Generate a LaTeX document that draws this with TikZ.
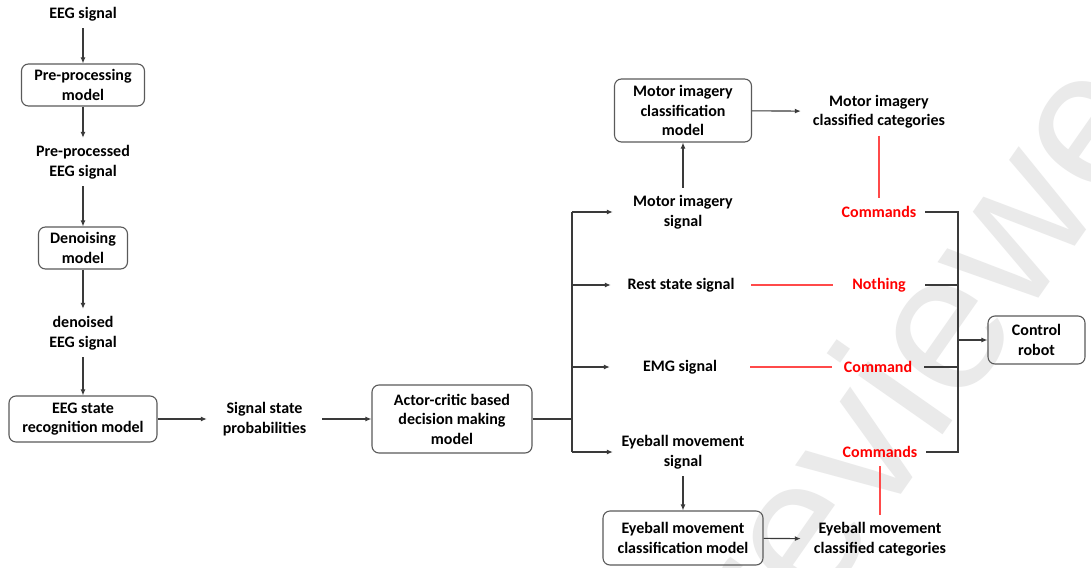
\documentclass[tikz,border=0pt]{standalone}
\usepackage{fontspec}
\setmainfont{Carlito}
\newfontfamily\wmfont{Liberation Sans}
\usetikzlibrary{arrows.meta}
\definecolor{linegray}{HTML}{3A3A3A}
\definecolor{boxgray}{HTML}{5A5A5A}
\definecolor{cmdred}{HTML}{FF0000}
\definecolor{redline}{HTML}{FF4A4A}
\definecolor{wmgray}{HTML}{EAEAEA}
\tikzset{
  txt/.style={font=\bfseries\fontsize{16}{19.5}\selectfont, align=center, inner sep=0pt},
  lbl/.style={txt, minimum height=28pt},
  lbltwo/.style={txt, minimum height=48pt},
  model/.style={txt, draw=boxgray, line width=1.1pt, rounded corners=7pt},
  arr/.style={draw=linegray, line width=1.1pt, -{Latex[length=6pt,width=5pt]}},
  plain/.style={draw=linegray, line width=1.1pt},
  cmdline/.style={draw=redline, line width=1.2pt},
  cmd/.style={lbl, text=cmdred, minimum width=92pt},
  sig/.style={minimum width=140pt},
}
\begin{document}
\begin{tikzpicture}[x=1pt,y=-1pt]
\useasboundingbox[fill=white] (0,0) rectangle (1091,567);

% watermark
\begin{scope}
  \clip (0,0) rectangle (1091,567);
  \node[anchor=base west, rotate=55, inner sep=0pt, text=wmgray,
        font=\wmfont\fontsize{195}{195}\selectfont] (wm) at (780,668) {reviewed};
\end{scope}

% EEG processing chain
\node[lbl] (eeg) at (83,14) {EEG signal};
\node[model, minimum width=123pt, minimum height=42pt] (pre) at (83,85) {Pre-processing\\model};
\node[lbltwo] (ppe) at (83,162) {Pre-processed\\EEG signal};
\node[model, minimum width=89pt, minimum height=42pt] (den) at (83,248) {Denoising\\model};
\node[lbltwo] (dne) at (83,333) {denoised\\EEG signal};
\node[model, minimum width=148pt, minimum height=46pt] (rec) at (83,419) {EEG state\\recognition model};
\node[lbltwo, minimum width=115pt] (ssp) at (264.5,419) {Signal state\\probabilities};
\node[model, minimum width=160pt, minimum height=68pt] (act) at (452,419) {Actor-critic based\\decision making\\model};

% signal branches
\node[lbltwo, sig] (mis) at (683,212) {Motor imagery\\signal};
\node[lbl, sig] (rss) at (681,285) {Rest state signal};
\node[lbl, sig] (emg) at (680,367) {EMG signal};
\node[lbltwo, sig] (ems) at (683,452) {Eyeball movement\\signal};

\node[model, minimum width=137pt, minimum height=63pt] (mic) at (683,110.5) {Motor imagery\\classification\\model};
\node[model, minimum width=160pt, minimum height=54pt] (ebc) at (683,538) {Eyeball movement\\classification model};

\node[lbltwo, minimum width=156pt] (micc) at (879,111.5) {Motor imagery\\classified categories};
\node[lbltwo, minimum width=158pt] (emcc) at (880,539) {Eyeball movement\\classified categories};

\node[cmd] (cmd1) at (879,212) {Commands};
\node[cmd] (noth) at (879,285) {Nothing};
\node[cmd] (cmd2) at (878,367) {Command};
\node[cmd] (cmd3) at (880,452) {Commands};

\node[model, minimum width=97pt, minimum height=48pt] (robot) at (1036.5,340) {Control\\robot};

\coordinate (J1) at (572,419);
\coordinate (J2) at (958,340);

% connectors of the chain
\draw[arr] (eeg) -- (pre);
\draw[arr] (pre) -- (ppe);
\draw[arr] (ppe) -- (den);
\draw[arr] (den) -- (dne);
\draw[arr] (dne) -- (rec);
\draw[arr] (rec) -- (ssp);
\draw[arr] (ssp) -- (act);
\draw[plain] (act) -- (J1);

% trunk to the four signals
\draw[plain] (J1 |- mis) -- (J1 |- ems);
\draw[arr] (J1 |- mis) -- (mis);
\draw[arr] (J1 |- rss) -- (rss);
\draw[arr] (J1 |- emg) -- (emg);
\draw[arr] (J1 |- ems) -- (ems);

% classification paths
\draw[arr] (mis) -- (mic);
\draw[arr] (mic) -- (micc);
\draw[arr] (ems) -- (ebc);
\draw[arr] (ebc) -- (emcc);

% red links to commands
\draw[cmdline] (micc.south) -- (cmd1.north);
\draw[cmdline] (rss.east) -- (noth.west);
\draw[cmdline] (emg.east) -- (cmd2.west);
\draw[cmdline] (cmd3.south) -- (emcc.north);

% collector to robot
\draw[plain] (cmd1.east) -- (cmd1.east -| J2) -- (cmd3.east -| J2) -- (cmd3.east);
\draw[plain] (noth.east) -- (noth.east -| J2);
\draw[plain] (cmd2.east) -- (cmd2.east -| J2);
\draw[arr] (J2) -- (robot);
\end{tikzpicture}
\end{document}
